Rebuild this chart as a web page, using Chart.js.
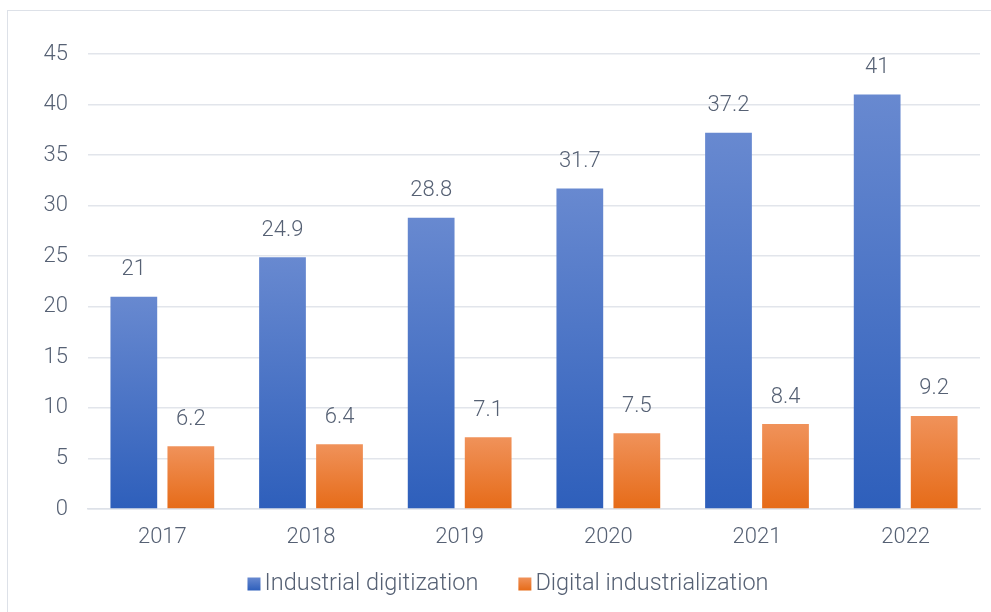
<!DOCTYPE html>
<html>
<head>
<meta charset="utf-8">
<script src="https://cdn.jsdelivr.net/npm/chart.js@4.4.0/dist/chart.umd.min.js"></script>
<style>
  html, body { margin: 0; padding: 0; background: #fff; }
  #wrap { position: relative; width: 991px; height: 612px; overflow: hidden; }
  #frame { position: absolute; left: 7px; top: 10px; width: 1000px; height: 620px; border: 1.5px solid #dde1e8; box-sizing: border-box; }
  canvas { position: absolute; left: 0; top: 0; }
</style>
</head>
<body>
<div id="wrap">
  <div id="frame"></div>
  <canvas id="chart" width="991" height="612"></canvas>
</div>
<script>
const years = ['2017', '2018', '2019', '2020', '2021', '2022'];
const industrialDigitization = [21, 24.9, 28.8, 31.7, 37.2, 41];
const digitalIndustrialization = [6.2, 6.4, 7.1, 7.5, 8.4, 9.2];

const textColor = '#566174';
const fontFamily = "Roboto, 'Noto Sans', sans-serif";
const fontSize = 22;
const blueStops = ['#6889d0', '#2e5fbb'];
const orangeStops = ['#f0925a', '#e66b18'];

function makeGradient(ctx, top, bottom, stops) {
    const g = ctx.createLinearGradient(0, top, 0, bottom);
    g.addColorStop(0, stops[0]);
    g.addColorStop(1, stops[1]);
    return g;
}

// vertical gradient from the top of each bar down to the axis
function barGradient(stops) {
    return function(context) {
        const chart = context.chart;
        if (!chart.chartArea || context.raw === undefined) return stops[1];
        const y = chart.scales.y;
        return makeGradient(chart.ctx, y.getPixelForValue(context.raw), y.getPixelForValue(0), stops);
    };
}

// value labels above the bars
const valueLabels = {
    id: 'valueLabels',
    afterDatasetsDraw(chart) {
        const ctx = chart.ctx;
        ctx.save();
        ctx.font = '300 ' + fontSize + 'px ' + fontFamily;
        ctx.fillStyle = textColor;
        ctx.textAlign = 'center';
        ctx.textBaseline = 'middle';
        chart.data.datasets.forEach((ds, i) => {
            chart.getDatasetMeta(i).data.forEach((bar, j) => {
                ctx.fillText(String(ds.data[j]), bar.x, bar.y - 27);
            });
        });
        ctx.restore();
    }
};

// compact legend under the axis: small square, tight gap, then the label
const bottomLegend = {
    id: 'bottomLegend',
    afterDraw(chart) {
        const ctx = chart.ctx;
        const stops = [blueStops, orangeStops];
        const box = 13, boxGap = 4, itemGap = 40, cy = 584;
        ctx.save();
        ctx.font = '300 23.5px ' + fontFamily;
        const widths = chart.data.datasets.map(ds => ctx.measureText(ds.label).width);
        let total = (box + boxGap) * widths.length + itemGap * (widths.length - 1);
        widths.forEach(w => total += w);
        let x = 508 - total / 2;
        ctx.textBaseline = 'middle';
        ctx.textAlign = 'left';
        chart.data.datasets.forEach((ds, i) => {
            ctx.fillStyle = makeGradient(ctx, cy - box / 2, cy + box / 2, stops[i]);
            ctx.fillRect(x, cy - box / 2, box, box);
            x += box + boxGap;
            ctx.fillStyle = textColor;
            ctx.fillText(ds.label, x, cy);
            x += widths[i] + itemGap;
        });
        ctx.restore();
    }
};

const tickFont = { size: fontSize, family: fontFamily, weight: 300 };

new Chart(document.getElementById('chart'), {
    type: 'bar',
    data: {
        labels: years,
        datasets: [
            {
                label: 'Industrial digitization',
                data: industrialDigitization,
                backgroundColor: barGradient(blueStops),
                barPercentage: 0.82,
                categoryPercentage: 0.767
            },
            {
                label: 'Digital industrialization',
                data: digitalIndustrialization,
                backgroundColor: barGradient(orangeStops),
                barPercentage: 0.82,
                categoryPercentage: 0.767
            }
        ]
    },
    options: {
        responsive: false,
        animation: false,
        layout: { padding: { top: 54, right: 11, left: 0, bottom: 49 } },
        scales: {
            x: {
                grid: { display: false },
                border: { display: true, color: '#dde1e8', width: 1.5 },
                ticks: { color: textColor, font: tickFont, padding: 7 },
                afterFit(scale) { scale.height = 54; }
            },
            y: {
                min: 0,
                max: 45,
                ticks: { stepSize: 5, color: textColor, font: tickFont, padding: 20 },
                grid: { color: '#e2e5eb', lineWidth: 1.5, drawTicks: false },
                border: { display: false },
                afterFit(scale) { scale.width = 88; }
            }
        },
        plugins: {
            legend: { display: false },
            tooltip: { enabled: false }
        }
    },
    plugins: [valueLabels, bottomLegend]
});
</script>
</body>
</html>
